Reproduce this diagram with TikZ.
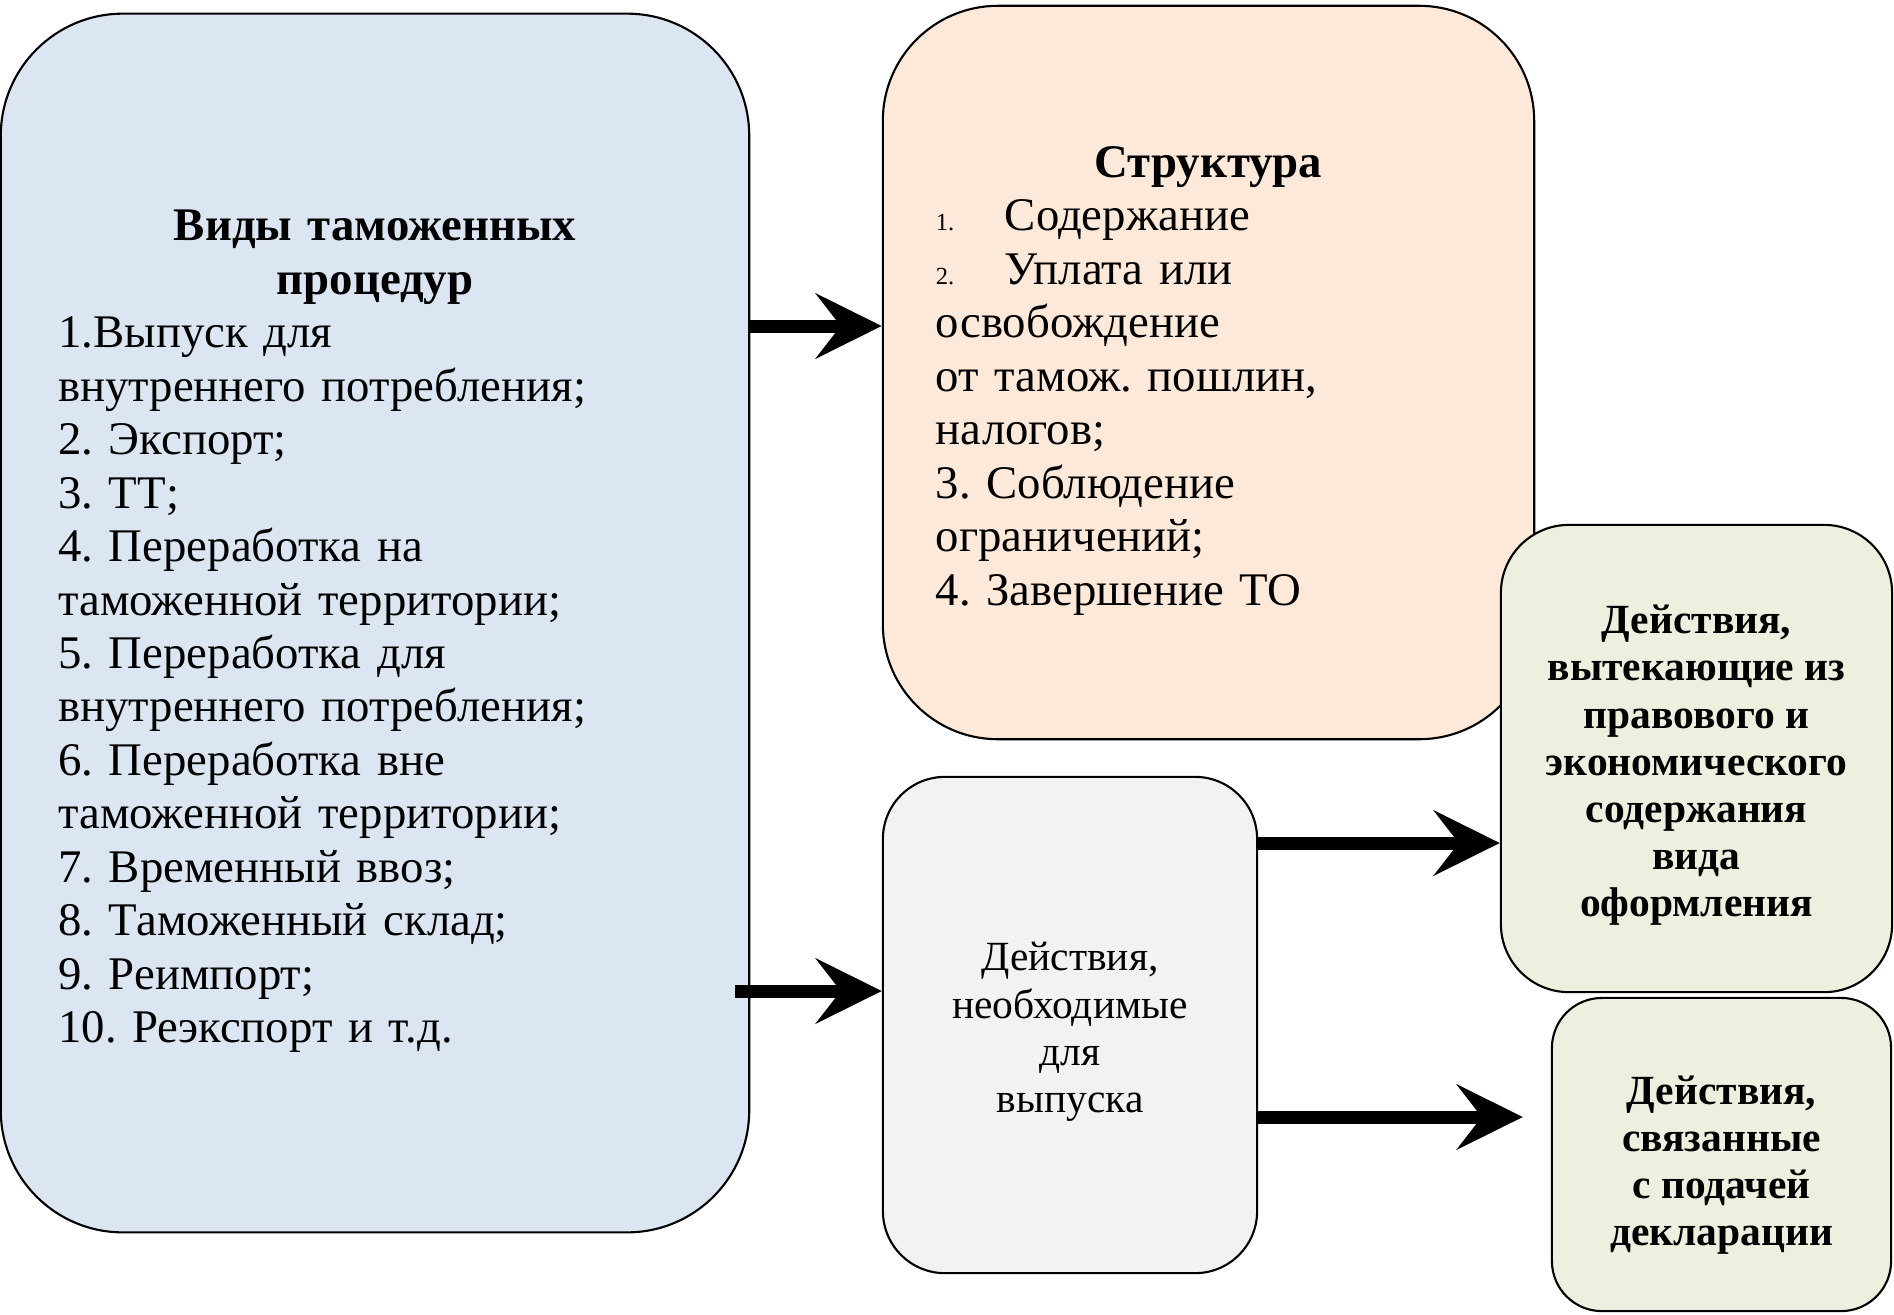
\documentclass[tikz,border=0pt]{standalone}
\usepackage{fontspec}
\setmainfont{Liberation Serif}
\usetikzlibrary{arrows.meta}
\definecolor{bluebg}{HTML}{DCE6F2}
\definecolor{orangebg}{HTML}{FDE9D9}
\definecolor{graybg}{HTML}{F2F2F2}
\definecolor{greenbg}{HTML}{EBF1DE}
\newcommand{\itemno}[1]{\makebox[0.69cm][l]{\fontsize{7}{8}\selectfont #1}}
\newcommand{\toprule}[1]{\rule{0pt}{#1}}
\frenchspacing
\begin{document}
\begin{tikzpicture}[x=0.01cm, y=-0.01cm, line join=round,
		box/.style={draw, line width=0.6pt, inner sep=0pt},
		body/.style={font=\fontsize{13.3}{15.2}\selectfont},
		small/.style={font=\fontsize{11.8}{13.4}\selectfont},
		smallbold/.style={font=\fontsize{11.8}{13.4}\selectfont\bfseries},
		arr/.style={line width=0.13cm, -{Stealth[length=0.66cm, width=0.65cm, inset=0.25cm]}}]
	\useasboundingbox (0,0) rectangle (1894,1314);
	% boxes
	\node[box, fill=bluebg, rounded corners=1.22cm, minimum width=7.48cm, minimum height=12.18cm,
		text width=6.33cm, align=left, body] (types) at (375,623)
		{{\centering\bfseries\toprule{13.5pt}Виды таможенных\\ процедур\par}
		1.Выпуск для\\ внутреннего потребления;\\ 2. Экспорт;\\ 3. ТТ;\\
		4. Переработка на\\ таможенной территории;\\ 5. Переработка для\\
		внутреннего потребления;\\ 6. Переработка вне\\ таможенной территории;\\
		7. Временный ввоз;\\ 8. Таможенный склад;\\ 9. Реимпорт;\\ 10. Реэкспорт и т.д.};
	\node[box, fill=orangebg, rounded corners=1.15cm, minimum width=6.51cm, minimum height=7.33cm,
		text width=5.45cm, align=left, body] (struct) at (1208.5,372.5)
		{{\centering\bfseries\toprule{13.5pt}Структура\par}
		\itemno{1.}Содержание\\ \itemno{2.}Уплата или\\ освобождение\\ от тамож. пошлин,\\
		налогов;\\ 3. Соблюдение\\ ограничений;\\ 4. Завершение ТО};
	\node[box, fill=graybg, rounded corners=0.62cm, minimum width=3.74cm, minimum height=4.96cm,
		align=center, small] (release) at (1070,1025)
		{\toprule{12pt}Действия,\\ необходимые\\ для\\ выпуска};
	\node[box, fill=greenbg, rounded corners=0.68cm, minimum width=3.91cm, minimum height=4.67cm,
		align=center, smallbold] (legal) at (1696.5,758.5)
		{\toprule{12pt}Действия,\\ вытекающие из\\ правового и\\ экономического\\ содержания\\ вида\\ оформления};
	\node[box, fill=greenbg, rounded corners=0.5cm, minimum width=3.39cm, minimum height=3.13cm,
		align=center, smallbold] (decl) at (1721.5,1154.5)
		{\toprule{14pt}Действия,\\ связанные\\ с подачей\\ декларации};
	% arrows
	\draw[arr] (types.east |- 0,326) -- (struct.west |- 0,326);
	\draw[arr] ([xshift=-0.15cm]types.east |- 0,991) -- (release.west |- 0,991);
	\draw[arr] (release.east |- 0,843) -- (legal.west |- 0,843);
	\draw[arr] (release.east |- 0,1117) -- ([xshift=-0.28cm]decl.west |- 0,1117);
\end{tikzpicture}
\end{document}
